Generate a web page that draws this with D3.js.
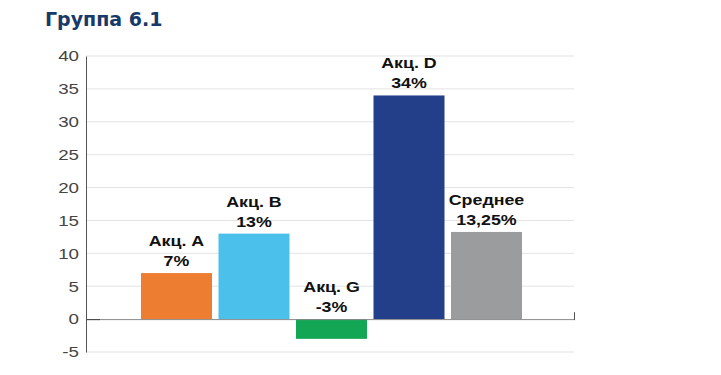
<!DOCTYPE html>
<html><head><meta charset="utf-8">
<script src="https://cdn.jsdelivr.net/npm/d3@7"></script>
<style>body{margin:0;background:#fff}svg{display:block}</style>
</head><body><svg id="c" width="721" height="375"></svg>
<script>
const categories = ["Акц. A", "Акц. B", "Акц. G", "Акц. D", "Среднее"];
const values = [7, 13, -3, 34, 13.25];
const valueLabels = ["7%", "13%", "-3%", "34%", "13,25%"];
const colors = ["#ED7D31", "#4BC0EB", "#13A654", "#233F8A", "#9A9C9D"];
const yTicks = [-5, 0, 5, 10, 15, 20, 25, 30, 35, 40];
const title = "Группа 6.1";

const svg = d3.select("#c");
const y = d3.scaleLinear().domain([-5, 40]).range([352, 56]);
const x = d3.scaleBand().domain(categories).range([141, 522]).paddingInner(0.084).paddingOuter(0);
const xL = 86, xR = 574;

svg.append("text").attr("x", 45).attr("y", 26).text(title)
  .attr("font-family", "DejaVu Sans").attr("font-weight", "bold").attr("font-size", 19)
  .attr("fill", "#183A68");

// gridlines
svg.append("g").selectAll("line").data(yTicks.filter(d => d !== 0)).join("line")
  .attr("x1", xL).attr("x2", xR).attr("y1", d => y(d)).attr("y2", d => y(d))
  .attr("stroke", "#E3E3E3").attr("stroke-width", 1);

// y axis
const ya = svg.append("g").attr("transform", `translate(${xL},0)`)
  .call(d3.axisLeft(y).tickValues(yTicks).tickSize(0).tickPadding(7).tickFormat(d => String(d)));
ya.select(".domain").attr("stroke", "#555");
ya.selectAll(".tick text")
  .attr("font-family", "Liberation Sans, Arial").attr("font-size", 15).attr("fill", "#444")
  .attr("transform", "translate(-7,0) scale(1.25,1)").attr("x", 0);

// bars
svg.append("g").selectAll("rect").data(values).join("rect")
  .attr("x", (d, i) => x(categories[i])).attr("width", x.bandwidth())
  .attr("y", d => y(Math.max(0, d))).attr("height", d => Math.abs(y(d) - y(0)))
  .attr("fill", (d, i) => colors[i]);

// baseline
svg.append("line").attr("x1", xL).attr("x2", xR).attr("y1", y(0) + 0.5).attr("y2", y(0) + 0.5)
  .attr("stroke", "#888");
svg.append("line").attr("x1", xL).attr("x2", xL + 14).attr("y1", y(0) + 0.5).attr("y2", y(0) + 0.5)
  .attr("stroke", "#444");
svg.append("line").attr("x1", xR + 0.5).attr("x2", xR + 0.5).attr("y1", y(0) - 7).attr("y2", y(0) + 1)
  .attr("stroke", "#555");

// labels
const lab = svg.append("g").selectAll("text").data(values).join("text")
  .attr("text-anchor", "middle")
  .attr("font-family", "Liberation Sans, Arial").attr("font-weight", "bold").attr("font-size", 15.5)
  .attr("fill", "#111")
  .attr("transform", (d, i) => `translate(${x(categories[i]) + x.bandwidth() / 2},${y(Math.max(0, d)) - 7}) scale(1.15,1)`);
lab.append("tspan").attr("x", 0).attr("dy", -20).text((d, i) => categories[i]);
lab.append("tspan").attr("x", 0).attr("dy", 20).text((d, i) => valueLabels[i]);
</script></body></html>
